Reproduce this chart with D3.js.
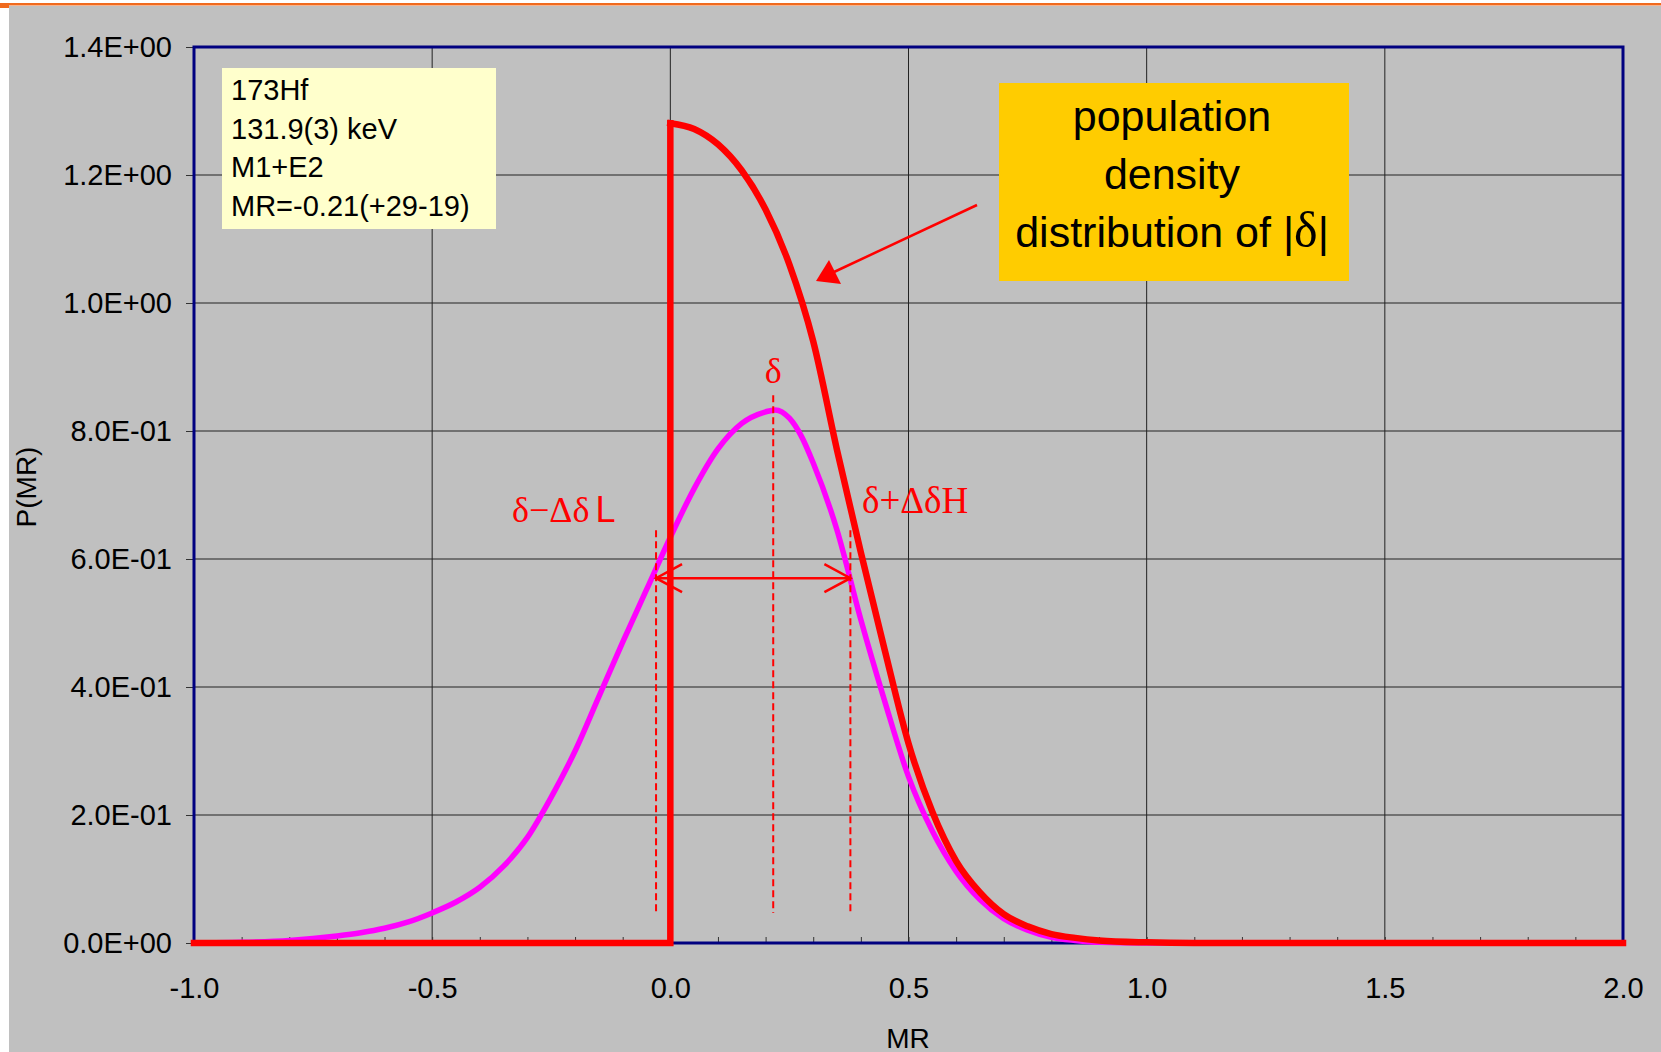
<!DOCTYPE html>
<meta charset="utf-8">
<head>
  <title>P(MR) - 173Hf 131.9 keV</title>
</head>

<style>
body { margin: 0; background: #fff; }
svg text { font-family: Arial, "Liberation Sans", sans-serif; fill: #000; }
.serif { font-family: "Times New Roman", "Liberation Serif", serif; }
</style>

<body>
  <svg width="1661" height="1052"></svg>

  <script src="https://cdnjs.cloudflare.com/ajax/libs/d3/7.8.5/d3.min.js"></script>

  <script>
var width = 1661, height = 1052

// axis ticks
var xTicks = [-1.0, -0.5, 0.0, 0.5, 1.0, 1.5, 2.0]
var xTickLabels = ['-1.0', '-0.5', '0.0', '0.5', '1.0', '1.5', '2.0']
var yTicks = [0, 0.2, 0.4, 0.6, 0.8, 1.0, 1.2, 1.4]
var yTickLabels = ['0.0E+00', '2.0E-01', '4.0E-01', '6.0E-01', '8.0E-01', '1.0E+00', '1.2E+00', '1.4E+00']

// P(MR) - magenta
var mrX = [-1.0, -0.9, -0.8, -0.75, -0.7, -0.65, -0.6, -0.55, -0.5, -0.45, -0.4, -0.35, -0.3, -0.25,
           -0.2, -0.15, -0.1, -0.05, 0.0, 0.05, 0.1, 0.15, 0.2, 0.22, 0.25, 0.275, 0.3, 0.35, 0.4, 0.45,
           0.5, 0.55, 0.6, 0.65, 0.7, 0.75, 0.8, 0.85, 0.9, 1.0, 2.0]
var mrP = [0, 0.001, 0.004, 0.007, 0.011, 0.016, 0.023, 0.033, 0.047, 0.064, 0.087, 0.12, 0.165, 0.228,
           0.300, 0.385, 0.47, 0.552, 0.634, 0.71, 0.772, 0.812, 0.830, 0.833, 0.82, 0.792, 0.75, 0.645, 0.505, 0.378,
           0.26, 0.175, 0.112, 0.068, 0.038, 0.02, 0.009, 0.004, 0.001, 0, 0]

// population density of |delta| - red
var absX = [-1.0, 0.0, 0.0, 0.05, 0.1, 0.15, 0.2, 0.25, 0.3, 0.35, 0.4, 0.45, 0.5, 0.55, 0.6,
            0.65, 0.7, 0.75, 0.8, 0.85, 0.9, 1.0, 1.1, 2.0]
var absP = [0, 0, 1.281, 1.272, 1.248, 1.207, 1.146, 1.06, 0.94, 0.77, 0.61, 0.458, 0.312, 0.205, 0.128,
            0.079, 0.045, 0.026, 0.014, 0.008, 0.004, 0.001, 0, 0]

// delta and its limits
var deltaX = [-0.03, 0.216, 0.378]
var deltaTop = [0.645, 0.856, 0.645]
var deltaBottom = 0.047
var arrowY = 0.57

var infoLines = ['173Hf', '131.9(3) keV', 'M1+E2', 'MR=-0.21(+29-19)']

var svg = d3.select('svg')

var plotL = 194, plotR = 1623, plotT = 47, plotB = 943

var x = d3.scaleLinear().domain([-1, 2]).range([plotL, plotR])
var y = d3.scaleLinear().domain([0, 1.4]).range([plotB, plotT])

// backgrounds
svg.append('rect').attr('x', 9).attr('y', 6).attr('width', width - 9).attr('height', height - 6)
  .attr('fill', '#c0c0c0')
svg.append('rect').attr('x', 0).attr('y', 3).attr('width', width).attr('height', 2.5)
  .attr('fill', '#f06a1e')
svg.append('rect').attr('x', 0).attr('y', 3).attr('width', 9).attr('height', 5)
  .attr('fill', '#f06a1e')

// gridlines
svg.append('g').selectAll('line')
  .data(yTicks.slice(1, -1))
  .enter().append('line')
  .attr('x1', plotL).attr('x2', plotR)
  .attr('y1', function(d) { return y(d) }).attr('y2', function(d) { return y(d) })
  .attr('stroke', '#222').attr('stroke-width', 1)

svg.append('g').selectAll('line')
  .data(xTicks.slice(1, -1))
  .enter().append('line')
  .attr('y1', plotT).attr('y2', plotB)
  .attr('x1', function(d) { return x(d) }).attr('x2', function(d) { return x(d) })
  .attr('stroke', '#222').attr('stroke-width', 1)

// minor x ticks inside
svg.append('g')
  .attr('transform', 'translate(0,' + plotB + ')')
  .call(d3.axisBottom(x).tickValues(d3.range(-10, 21).map(function(i) { return i / 10 }))
    .tickSize(-6).tickFormat(''))
  .call(function(g) { g.select('.domain').remove() })
  .selectAll('line').attr('stroke', '#333')

// y axis
var yAxis = svg.append('g')
  .attr('transform', 'translate(' + plotL + ',0)')
  .call(d3.axisLeft(y).tickValues(yTicks)
    .tickFormat(function(d, i) { return yTickLabels[i] })
    .tickSize(8).tickPadding(14))
yAxis.select('.domain').remove()
yAxis.selectAll('line').attr('stroke', '#333')
yAxis.selectAll('text').attr('font-size', 29).attr('font-family', 'Arial, "Liberation Sans", sans-serif')

// x axis labels
var xAxis = svg.append('g')
  .attr('transform', 'translate(0,' + plotB + ')')
  .call(d3.axisBottom(x).tickValues(xTicks)
    .tickFormat(function(d, i) { return xTickLabels[i] })
    .tickSize(0).tickPadding(34))
xAxis.select('.domain').remove()
xAxis.selectAll('text').attr('font-size', 29).attr('font-family', 'Arial, "Liberation Sans", sans-serif')

// plot frame
svg.append('rect')
  .attr('x', plotL).attr('y', plotT).attr('width', plotR - plotL).attr('height', plotB - plotT)
  .attr('fill', 'none').attr('stroke', '#000080').attr('stroke-width', 3)

// axis titles
svg.append('text')
  .attr('transform', 'translate(36,487) rotate(-90)')
  .attr('text-anchor', 'middle').attr('font-size', 28)
  .text('P(MR)')
svg.append('text')
  .attr('x', 908).attr('y', 1048)
  .attr('text-anchor', 'middle').attr('font-size', 28)
  .text('MR')

// curves
var mrData = mrX.map(function(d, i) { return [d, mrP[i]] })
var absData = absX.map(function(d, i) { return [d, absP[i]] })

var curve = d3.line()
  .x(function(d) { return x(d[0]) })
  .y(function(d) { return y(d[1]) })
  .curve(d3.curveMonotoneX)
var poly = d3.line()
  .x(function(d) { return x(d[0]) })
  .y(function(d) { return y(d[1]) })

svg.append('path')
  .attr('d', curve(mrData))
  .attr('fill', 'none').attr('stroke', '#ff00ff').attr('stroke-width', 5.5)
  .attr('stroke-linejoin', 'round')

svg.append('path')
  .attr('d', poly(absData.slice(0, 3)))
  .attr('fill', 'none').attr('stroke', '#ff0000').attr('stroke-width', 6.5)
  .attr('stroke-linecap', 'square')
svg.append('path')
  .attr('d', curve(absData.slice(2)))
  .attr('fill', 'none').attr('stroke', '#ff0000').attr('stroke-width', 6.5)
  .attr('stroke-linecap', 'square').attr('stroke-linejoin', 'round')

// dashed markers
svg.append('g').selectAll('line')
  .data(deltaX)
  .enter().append('line')
  .attr('x1', function(d) { return x(d) }).attr('x2', function(d) { return x(d) })
  .attr('y1', function(d, i) { return y(deltaTop[i]) })
  .attr('y2', y(deltaBottom))
  .attr('stroke', '#ff0000').attr('stroke-width', 2).attr('stroke-dasharray', '7,4')

// double arrow between the limits
var ax1 = x(deltaX[0]), ax2 = x(deltaX[2]), ay = y(arrowY)
svg.append('line')
  .attr('x1', ax1).attr('x2', ax2).attr('y1', ay).attr('y2', ay)
  .attr('stroke', '#ff0000').attr('stroke-width', 2.5)
svg.append('path')
  .attr('d', 'M' + (ax1 + 26) + ',' + (ay - 14) + 'L' + ax1 + ',' + ay + 'L' + (ax1 + 26) + ',' + (ay + 14) +
             'M' + (ax2 - 26) + ',' + (ay - 14) + 'L' + ax2 + ',' + ay + 'L' + (ax2 - 26) + ',' + (ay + 14))
  .attr('fill', 'none').attr('stroke', '#ff0000').attr('stroke-width', 2.5)

// red labels
svg.append('text').attr('class', 'serif')
  .attr('x', x(deltaX[1])).attr('y', 383).attr('text-anchor', 'middle')
  .attr('font-size', 36).style('fill', '#ff0000')
  .text('δ')
var lowLabel = svg.append('text').attr('class', 'serif')
  .attr('x', 512).attr('y', 522).attr('font-size', 36).style('fill', '#ff0000')
lowLabel.append('tspan').text('δ−Δδ')
lowLabel.append('tspan').attr('font-family', 'Arial, "Liberation Sans", sans-serif').attr('dx', 6).text('L')
svg.append('text').attr('class', 'serif')
  .attr('x', 862).attr('y', 513).attr('font-size', 37).style('fill', '#ff0000')
  .text('δ+ΔδH')

// info box
svg.append('rect')
  .attr('x', 222).attr('y', 68).attr('width', 274).attr('height', 161)
  .attr('fill', '#ffffcc')
svg.append('g').selectAll('text')
  .data(infoLines)
  .enter().append('text')
  .attr('x', 231).attr('y', function(d, i) { return 100 + i * 38.7 })
  .attr('font-size', 29)
  .text(function(d) { return d })

// population density callout
svg.append('rect')
  .attr('x', 999).attr('y', 83).attr('width', 350).attr('height', 198)
  .attr('fill', '#ffcc00')
var callout = svg.append('text').attr('text-anchor', 'middle').attr('font-size', 43)
callout.append('tspan').attr('x', 1172).attr('y', 131).text('population')
callout.append('tspan').attr('x', 1172).attr('y', 189).text('density')
var lastLine = callout.append('tspan').attr('x', 1172).attr('y', 247)
lastLine.text('distribution of  |')
callout.append('tspan').attr('class', 'serif').attr('font-size', 50).text('δ')
callout.append('tspan').text('|')

// pointer arrow to the red curve
svg.append('line')
  .attr('x1', 977).attr('y1', 205).attr('x2', 834).attr('y2', 272)
  .attr('stroke', '#ff0000').attr('stroke-width', 2.5)
svg.append('path')
  .attr('d', 'M816,281 L829,260 L841,284 Z')
  .attr('fill', '#ff0000')
  </script>
</body>
</html>
